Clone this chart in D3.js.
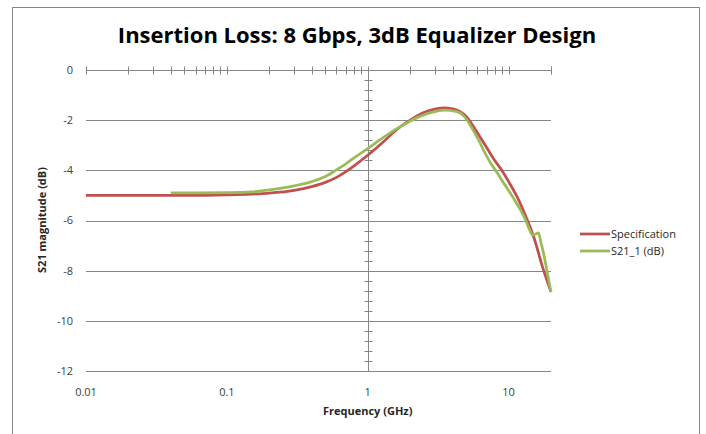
<!DOCTYPE html>
<html>
<head>
<meta charset="utf-8">
<script src="https://cdn.jsdelivr.net/npm/d3@7"></script>
<style>
  body { margin: 0; background: #fff; }
  svg { display: block; font-family: "Open Sans", "Liberation Sans", sans-serif; }
</style>
</head>
<body>
<svg id="chart" width="706" height="434"></svg>
<script>
// values (frequency in GHz, magnitude in dB)
var specFreq = [0.01, 0.02, 0.05, 0.1, 0.15, 0.2, 0.3, 0.4, 0.5, 0.6, 0.7, 0.8, 1, 1.3, 1.6, 2, 2.5, 3, 3.5, 4, 4.5, 5, 6, 7, 8, 9, 10, 11.5, 13.5, 15, 17.7, 20];
var specDb   = [-5.0, -5.0, -5.0, -4.98, -4.95, -4.91, -4.8, -4.65, -4.48, -4.28, -4.05, -3.82, -3.4, -2.85, -2.38, -2.0, -1.7, -1.56, -1.51, -1.55, -1.65, -1.85, -2.5, -3.1, -3.62, -4.02, -4.45, -5.06, -5.95, -6.62, -7.98, -8.85];

var s21Freq = [0.04, 0.06, 0.1, 0.15, 0.2, 0.3, 0.4, 0.5, 0.6, 0.7, 0.8, 1, 1.3, 1.62, 2, 2.5, 2.8, 3.5, 4.3, 4.8, 5.35, 6, 6.65, 7.4, 8.3, 9.2, 10, 11.5, 13, 14.3, 14.7, 15.5, 16.3, 17, 17.7, 19, 20];
var s21Db   = [-4.9, -4.9, -4.89, -4.86, -4.78, -4.62, -4.45, -4.25, -3.98, -3.74, -3.5, -3.13, -2.68, -2.33, -2.04, -1.79, -1.7, -1.6, -1.66, -1.83, -2.2, -2.7, -3.2, -3.68, -4.1, -4.5, -4.8, -5.35, -5.9, -6.45, -6.58, -6.55, -6.49, -6.9, -7.3, -8.2, -8.85];

var yTicks = [0, -2, -4, -6, -8, -10, -12];
var xTicks = [0.01, 0.1, 1, 10];

var seriesNames = ["Specification", "S21_1 (dB)"];
var seriesColors = ["#c0504d", "#9bbb59"];

var svg = d3.select("#chart");

var margin = {top: 70, left: 86, right: 155, bottom: 63},
    width = 706 - margin.left - margin.right,
    height = 434 - margin.top - margin.bottom;

// chart frame
svg.append("rect")
    .attr("x", 12.5).attr("y", 7.5)
    .attr("width", 687).attr("height", 440)
    .attr("fill", "none")
    .attr("stroke", "#868686");

svg.append("text")
    .attr("x", 357).attr("y", 43)
    .attr("text-anchor", "middle")
    .style("font-size", "22px")
    .style("font-weight", "bold")
    .text("Insertion Loss: 8 Gbps, 3dB Equalizer Design");

var g = svg.append("g").attr("transform", "translate(" + margin.left + "," + margin.top + ")");

var xScale = d3.scaleLog().domain([0.01, 20]).range([0, 465]);
var yScale = d3.scaleLinear().domain([-12, 0]).range([301, 0]);

// horizontal gridlines
g.append("g").selectAll("line")
    .data(yTicks.filter(function(d) { return d != 0; }))
    .enter().append("line")
    .attr("x1", 0).attr("x2", xScale(20))
    .attr("y1", function(d) { return Math.round(yScale(d)) + 0.5; })
    .attr("y2", function(d) { return Math.round(yScale(d)) + 0.5; })
    .attr("stroke", "#868686");

// y tick labels on the left
g.append("g").selectAll("text")
    .data(yTicks)
    .enter().append("text")
    .attr("x", -13)
    .attr("y", function(d) { return yScale(d); })
    .attr("dy", "0.35em")
    .attr("text-anchor", "end")
    .style("font-size", "11px")
    .style("fill", "#404040")
    .text(function(d) { return d; });

// x axis sits on y = 0, with log minor ticks crossing the line
var minor = [];
[0.01, 0.1, 1, 10].forEach(function(dec) {
    for (var k = 1; k <= 9; k++) {
        if (dec * k <= 20) minor.push(dec * k);
    }
});
minor.push(20);

var xAxisG = g.append("g").attr("transform", "translate(0," + (Math.round(yScale(0)) + 0.5) + ")");
xAxisG.append("line")
    .attr("x1", 0).attr("x2", xScale(20))
    .attr("stroke", "#868686");
xAxisG.selectAll(".tk")
    .data(minor)
    .enter().append("line")
    .attr("class", "tk")
    .attr("x1", function(d) { return Math.round(xScale(d)) + 0.5; })
    .attr("x2", function(d) { return Math.round(xScale(d)) + 0.5; })
    .attr("y1", -4).attr("y2", 4)
    .attr("stroke", "#868686");

// x tick labels at the bottom
g.append("g").selectAll("text")
    .data(xTicks)
    .enter().append("text")
    .attr("x", function(d) { return xScale(d); })
    .attr("y", 326)
    .attr("text-anchor", "middle")
    .style("font-size", "11px")
    .style("fill", "#404040")
    .text(function(d) { return d; });

// y axis crosses at 1 GHz, minor ticks every 0.4 dB
var yAxisG = g.append("g").attr("transform", "translate(" + (Math.round(xScale(1)) + 0.5) + ",0)");
yAxisG.append("line")
    .attr("y1", yScale(0)).attr("y2", yScale(-12))
    .attr("stroke", "#868686");
yAxisG.selectAll(".tk")
    .data(d3.range(0, 31).map(function(i) { return -i * 0.4; }))
    .enter().append("line")
    .attr("class", "tk")
    .attr("x1", -4).attr("x2", 4)
    .attr("y1", function(d) { return Math.round(yScale(d)) + 0.5; })
    .attr("y2", function(d) { return Math.round(yScale(d)) + 0.5; })
    .attr("stroke", "#868686");

// series lines
var line = d3.line()
    .x(function(d) { return xScale(d[0]); })
    .y(function(d) { return yScale(d[1]); })
    .curve(d3.curveMonotoneX);

var series = [d3.zip(specFreq, specDb), d3.zip(s21Freq, s21Db)];

g.selectAll(".series")
    .data(series)
    .enter().append("path")
    .attr("class", "series")
    .attr("d", line)
    .attr("fill", "none")
    .attr("stroke", function(d, i) { return seriesColors[i]; })
    .attr("stroke-width", 2.75)
    .attr("stroke-linejoin", "round");

// axis titles
svg.append("text")
    .attr("x", margin.left + xScale(1))
    .attr("y", 415)
    .attr("text-anchor", "middle")
    .style("font-size", "11px")
    .style("font-weight", "bold")
    .style("fill", "#262626")
    .text("Frequency (GHz)");

svg.append("text")
    .attr("transform", "translate(46,220) rotate(-90)")
    .attr("text-anchor", "middle")
    .style("font-size", "11px")
    .style("font-weight", "bold")
    .style("fill", "#262626")
    .text("S21 magnitude (dB)");

// legend
var legend = svg.append("g").attr("transform", "translate(580,234)");
var items = legend.selectAll("g")
    .data(seriesNames)
    .enter().append("g")
    .attr("transform", function(d, i) { return "translate(0," + (i * 17) + ")"; });
items.append("line")
    .attr("x1", 0).attr("x2", 30)
    .attr("stroke", function(d, i) { return seriesColors[i]; })
    .attr("stroke-width", 2.75);
items.append("text")
    .attr("x", 31).attr("dy", "0.35em")
    .style("font-size", "11px")
    .style("fill", "#262626")
    .text(function(d) { return d; });
</script>
</body>
</html>
